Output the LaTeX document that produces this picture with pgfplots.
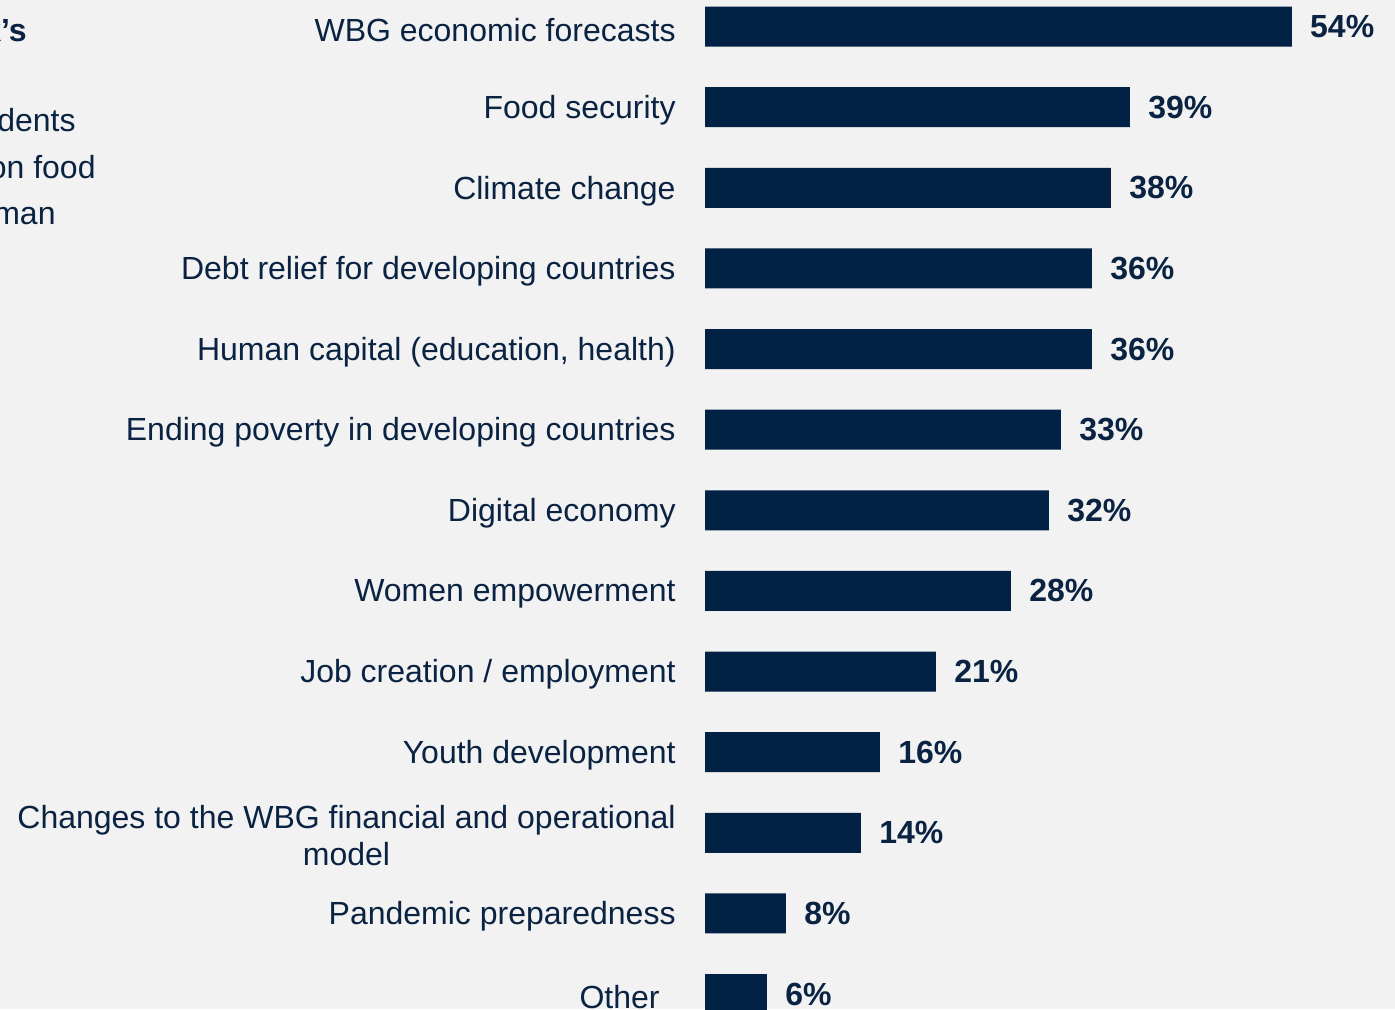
\documentclass[border=0pt]{standalone}
\usepackage{pgfplots}
\pgfplotsset{compat=1.18}
\usepackage{fontspec}
\setmainfont{Liberation Sans}
\definecolor{bg}{HTML}{F2F2F2}
\definecolor{navy}{HTML}{012244}
\definecolor{txt}{HTML}{0A2342}
\begin{document}
\begin{tikzpicture}
\useasboundingbox (0pt,0pt) rectangle (697.5pt,504.5pt);
\fill[bg] (0pt,0pt) rectangle (697.5pt,504.5pt);
\clip (0pt,0pt) rectangle (697.5pt,504.5pt);
\begin{scope}[every node/.style={text=txt, inner sep=0pt, font=\fontsize{16}{18}\selectfont}]
\node[anchor=base east, font=\fontsize{16}{18}\selectfont\bfseries] at (13.5pt,483.5pt) {Bank’s};
\node[anchor=base east] at (38pt,438.5pt) {respondents};
\node[anchor=base east] at (48pt,415.5pt) {on food};
\node[anchor=base east] at (28pt,392.5pt) {human};
\end{scope}
\begin{axis}[
  at={(352.5pt,-12.65pt)}, anchor=south west,
  scale only axis, width=326pt, height=524pt,
  xmin=0, xmax=60, ymin=-0.5, ymax=12.5,
  axis x line=none,
  axis y line*=left,
  y axis line style={draw=none},
  major tick length=0pt,
  ytick={0,...,12},
  yticklabels={Other\hspace*{8pt}, Pandemic preparedness, {Changes to the WBG financial and operational\\model}, Youth development, Job creation / employment, Women empowerment, Digital economy, Ending poverty in developing countries, {Human capital (education, health)}, Debt relief for developing countries, Climate change, Food security, WBG economic forecasts},
  yticklabel style={font=\fontsize{16}{18.5}\selectfont, text=txt, align=center, inner sep=0pt, anchor=east, xshift=-14.5pt, yshift=-1.5pt},
  xbar, bar width=20pt,
  point meta=explicit symbolic,
  nodes near coords={\pgfplotspointmeta\%},
  every node near coord/.append style={anchor=west, inner sep=0pt, xshift=9pt, text=txt, font=\fontsize{16}{18}\selectfont\bfseries},
  clip=false,
]
\addplot[fill=navy, draw=none] coordinates {
(5.7,0) [6] (7.45,1) [8] (14.35,2) [14] (16.1,3) [16] (21.25,4) [21] (28.15,5) [28] (31.65,6) [32] (32.75,7) [33] (35.6,8) [36] (35.6,9) [36] (37.35,10) [38] (39.1,11) [39] (54,12) [54]
};
\end{axis}
\end{tikzpicture}
\end{document}
